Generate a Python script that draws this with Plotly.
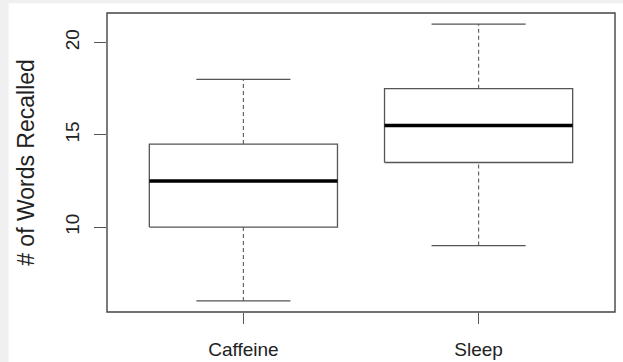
import plotly.graph_objects as go

categories = ["Caffeine", "Sleep"]
mins = [6, 9]
q1s = [10, 13.5]
medians = [12.5, 15.5]
q3s = [14.5, 17.5]
maxs = [18, 21]
y_ticks = [10, 15, 20]

box_half = 0.4
cap_half = 0.2
line_col = "#555555"

fig = go.Figure()
for i, cat in enumerate(categories):
    xc = i + 1
    # whiskers (dashed)
    fig.add_trace(go.Scatter(x=[xc, xc, None, xc, xc], y=[q3s[i], maxs[i], None, mins[i], q1s[i]],
                             mode="lines", line=dict(color="#666666", width=1.2, dash="4px,3px"),
                             hoverinfo="skip", showlegend=False))
    # caps
    fig.add_trace(go.Scatter(x=[xc - cap_half, xc + cap_half, None, xc - cap_half, xc + cap_half],
                             y=[maxs[i], maxs[i], None, mins[i], mins[i]],
                             mode="lines", line=dict(color=line_col, width=1.3),
                             hoverinfo="skip", showlegend=False))
    # box
    fig.add_trace(go.Scatter(x=[xc - box_half, xc + box_half, xc + box_half, xc - box_half, xc - box_half],
                             y=[q1s[i], q1s[i], q3s[i], q3s[i], q1s[i]],
                             mode="lines", fill="toself", fillcolor="white",
                             line=dict(color=line_col, width=1.3),
                             hoverinfo="skip", showlegend=False, name=cat))
    # median
    fig.add_trace(go.Scatter(x=[xc - box_half, xc + box_half], y=[medians[i], medians[i]],
                             mode="lines", line=dict(color="black", width=3.5),
                             hoverinfo="skip", showlegend=False))

fig.update_layout(
    width=623, height=362,
    margin=dict(l=107, r=8, t=13, b=50),
    paper_bgcolor="white", plot_bgcolor="white",
    font=dict(family="Liberation Sans, Arial, sans-serif", size=19, color="#222222"),
    xaxis=dict(range=[0.42, 2.58], tickvals=[1, 2], ticktext=categories,
               ticks="outside", ticklen=11, tickcolor="#555555", tickwidth=1.2,
               showgrid=False, zeroline=False, showline=False, ticklabelstandoff=9,
               automargin=False),
    yaxis=dict(range=[5.4, 21.6], tickvals=y_ticks, ticktext=[str(t) for t in y_ticks],
               tickangle=-90, ticks="outside", ticklen=12, tickcolor="#555555", tickwidth=1.2,
               showgrid=False, zeroline=False, showline=False, ticklabelstandoff=7,
               automargin=False,
               title=dict(text="# of Words Recalled", standoff=21)),
    shapes=[
        dict(type="rect", xref="paper", yref="paper", x0=-0.25, x1=-0.1937, y0=-0.25, y1=1.2,
             fillcolor="#f0f0f0", line=dict(width=0), layer="below"),
        dict(type="rect", xref="paper", yref="paper", x0=-0.25, x1=1.1, y0=1.0323, y1=1.2,
             fillcolor="#f0f0f0", line=dict(width=0), layer="below"),
        dict(type="rect", xref="paper", yref="paper", x0=0, x1=1, y0=0, y1=1,
             line=dict(color="#444444", width=1.4), fillcolor="rgba(0,0,0,0)", layer="above"),
    ],
)

fig.write_html("out.html", config={"displayModeBar": False, "staticPlot": True},
               post_script="document.body.style.margin='0';document.body.style.overflow='hidden';")
